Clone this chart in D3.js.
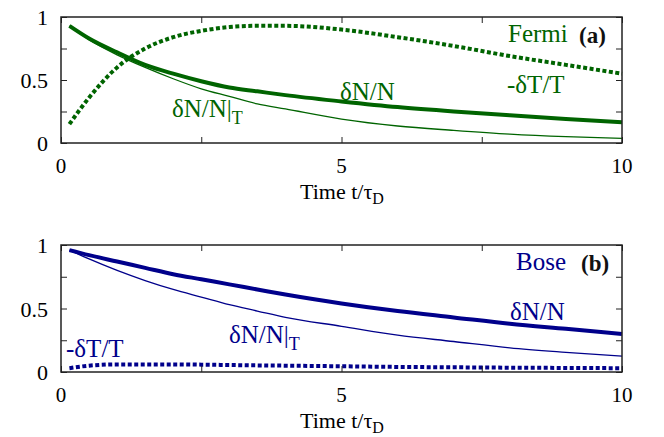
<!DOCTYPE html>
<html>
<head>
<meta charset="utf-8">
<script src="https://cdn.jsdelivr.net/npm/d3@7"></script>
<style>
  html, body { margin: 0; padding: 0; background: #fff; }
  svg { display: block; }
  svg text { font-family: "Times New Roman", Times, "Liberation Serif", Tinos, "Noto Serif", "DejaVu Serif", serif; }
</style>
</head>
<body>
<svg id="chart" width="664" height="437"></svg>
<script>
// Sample times (t / tau_D)
const times = [0.15, 0.5, 1, 1.5, 2, 2.5, 3, 3.5, 4, 5, 6, 7, 8, 9, 10];

// Panel (a): Fermi gas
const fermiDN   = [0.93, 0.83, 0.72, 0.62, 0.55, 0.49, 0.44, 0.41, 0.38, 0.33, 0.285, 0.25, 0.22, 0.19, 0.165];
const fermiDNT  = [0.93, 0.82, 0.70, 0.60, 0.51, 0.43, 0.37, 0.31, 0.27, 0.19, 0.135, 0.10, 0.07, 0.05, 0.037];
const fermiDT   = [0.15, 0.36, 0.60, 0.75, 0.84, 0.89, 0.92, 0.93, 0.93, 0.90, 0.84, 0.77, 0.69, 0.62, 0.55];

// Panel (b): Bose gas
const boseDN    = [0.96, 0.92, 0.87, 0.82, 0.77, 0.73, 0.69, 0.65, 0.61, 0.54, 0.48, 0.43, 0.38, 0.34, 0.30];
const boseDNT   = [0.96, 0.89, 0.80, 0.72, 0.65, 0.59, 0.53, 0.48, 0.43, 0.36, 0.29, 0.24, 0.19, 0.155, 0.125];
const boseDT    = [0.03, 0.05, 0.06, 0.06, 0.06, 0.058, 0.055, 0.052, 0.05, 0.045, 0.04, 0.037, 0.034, 0.032, 0.03];

// Axis ticks
const xTicks = [0, 2.5, 5, 7.5, 10];
const xTickLabels = ["0", "", "5", "", "10"];
const yTicks = [0, 0.25, 0.5, 0.75, 1];
const yTickLabels = ["0", "", "0.5", "", "1"];

const svg = d3.select("#chart");
const left = 61, right = 622;

function panel(cfg) {
  const x = d3.scaleLinear().domain([0, 10]).range([left, right]);
  const y = d3.scaleLinear().domain([0, 1]).range([cfg.bottom, cfg.top]);
  const g = svg.append("g");
  const line = d3.line().x((d, i) => x(times[i])).y(d => y(d)).curve(d3.curveMonotoneX);

  // Curves
  g.append("path").attr("d", line(cfg.dnT)).attr("fill", "none")
    .attr("stroke", cfg.color).attr("stroke-width", 1.3);
  g.append("path").attr("d", line(cfg.dn)).attr("fill", "none")
    .attr("stroke", cfg.color).attr("stroke-width", 4);
  g.append("path").attr("d", line(cfg.dt)).attr("fill", "none")
    .attr("stroke", cfg.color).attr("stroke-width", 4).attr("stroke-dasharray", "4,2.5");

  // Frame with inward ticks on all sides
  const axisG = g.append("g");
  axisG.append("g").attr("transform", `translate(0,${cfg.bottom})`)
    .call(d3.axisTop(x).tickValues(xTicks).tickSize(6).tickFormat(""))
    .call(s => s.select(".domain").remove());
  axisG.append("g").attr("transform", `translate(0,${cfg.top})`)
    .call(d3.axisBottom(x).tickValues(xTicks).tickSize(6).tickFormat(""))
    .call(s => s.select(".domain").remove());
  axisG.append("g").attr("transform", `translate(${left},0)`)
    .call(d3.axisRight(y).tickValues(yTicks).tickSize(6).tickFormat(""))
    .call(s => s.select(".domain").remove());
  axisG.append("g").attr("transform", `translate(${right},0)`)
    .call(d3.axisLeft(y).tickValues(yTicks).tickSize(6).tickFormat(""))
    .call(s => s.select(".domain").remove());
  axisG.selectAll("line").attr("stroke", "#222").attr("stroke-width", 1);
  g.append("rect").attr("x", left).attr("y", cfg.top)
    .attr("width", right - left).attr("height", cfg.bottom - cfg.top)
    .attr("fill", "none").attr("stroke", "#222").attr("stroke-width", 1.5);

  // Tick labels
  g.selectAll(".xl").data(xTicks).enter().append("text")
    .attr("x", d => x(d)).attr("y", cfg.bottom + 30)
    .attr("text-anchor", "middle").attr("font-size", 21)
    .text((d, i) => xTickLabels[i]);
  g.selectAll(".yl").data(yTicks).enter().append("text")
    .attr("x", left - 13).attr("y", d => y(d) + 8)
    .attr("text-anchor", "end").attr("font-size", 22)
    .text((d, i) => yTickLabels[i]);

  // Axis title
  const title = g.append("text").attr("x", 342).attr("y", cfg.bottom + 56)
    .attr("text-anchor", "middle").attr("font-size", 22);
  title.append("tspan").text("Time t/τ");
  title.append("tspan").attr("font-size", 16).attr("dy", 5).text("D");

  // Curve and panel labels
  const lab = (t, px, py, sub) => {
    const el = g.append("text").attr("x", px).attr("y", py)
      .attr("font-size", 25).attr("fill", cfg.color);
    el.append("tspan").text(t);
    if (sub) el.append("tspan").attr("font-size", 18).attr("dy", 7).text(sub);
  };
  lab(cfg.name, cfg.nameX, cfg.top + 25);
  g.append("text").attr("x", cfg.tagX).attr("y", cfg.top + 26)
    .attr("font-size", 23).attr("font-weight", "bold").attr("fill", "#111").text(cfg.tag);
  cfg.labels.forEach(l => lab(l.t, l.x, l.y, l.sub));
}

panel({
  top: 17, bottom: 143, color: "#006400",
  dn: fermiDN, dnT: fermiDNT, dt: fermiDT,
  name: "Fermi", nameX: 508, tag: "(a)", tagX: 579,
  labels: [
    { t: "-δT/T", x: 507, y: 93 },
    { t: "δN/N", x: 340, y: 100 },
    { t: "δN/N|", x: 172, y: 117, sub: "T" }
  ]
});

panel({
  top: 245, bottom: 372, color: "#00008b",
  dn: boseDN, dnT: boseDNT, dt: boseDT,
  name: "Bose", nameX: 516, tag: "(b)", tagX: 581,
  labels: [
    { t: "δN/N", x: 510, y: 320 },
    { t: "δN/N|", x: 229, y: 343, sub: "T" },
    { t: "-δT/T", x: 66, y: 357 }
  ]
});
</script>
</body>
</html>
